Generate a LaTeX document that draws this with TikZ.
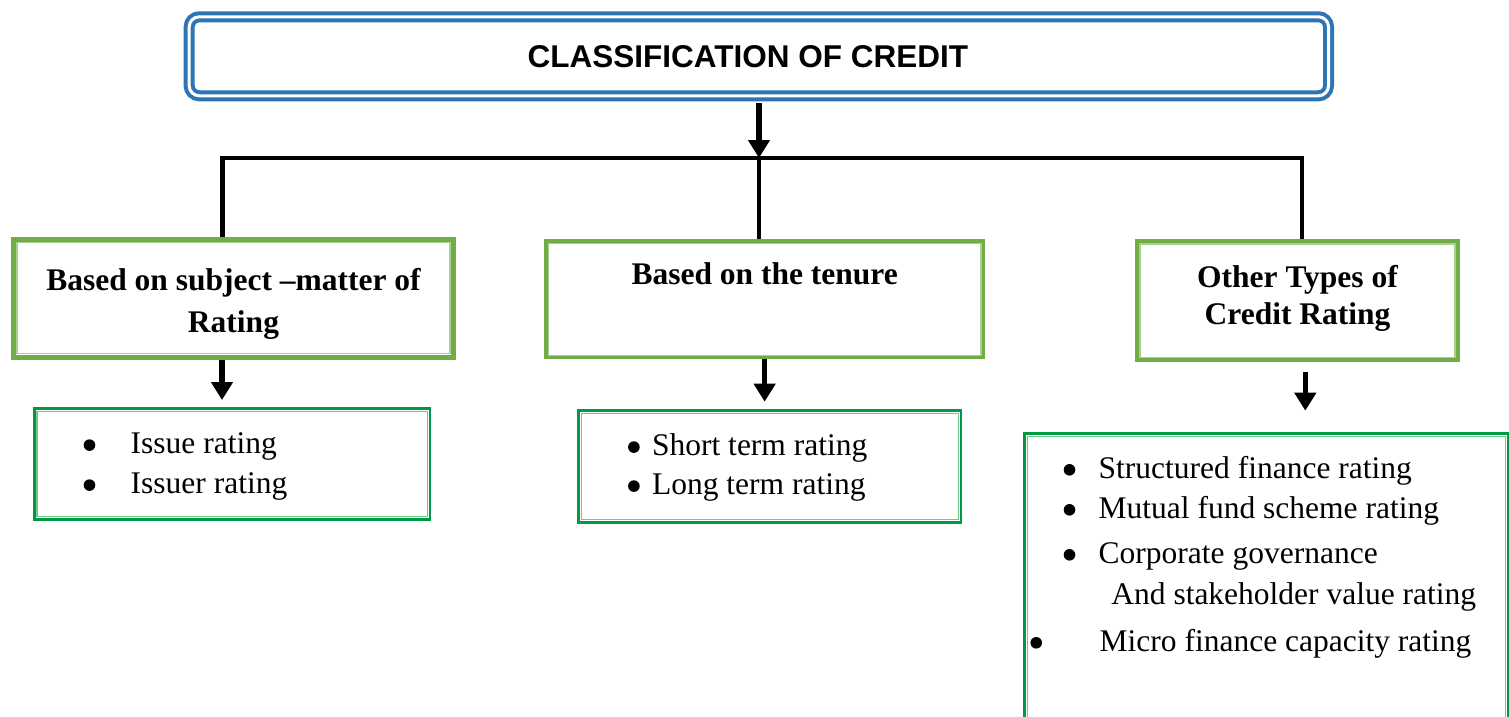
\documentclass[tikz,border=0pt]{standalone}
\usepackage{fontspec}
\setmainfont{Liberation Serif}
\newfontfamily\sansfam{Liberation Sans}
\usetikzlibrary{arrows.meta}
\definecolor{titleblue}{RGB}{46,117,182}
\definecolor{headgreen}{RGB}{112,173,71}
\definecolor{headlight}{RGB}{169,209,142}
\definecolor{listgreen}{RGB}{0,153,68}
\definecolor{listlight}{RGB}{110,200,135}
\newcommand\boxfont{\fontsize{31.5}{40}\selectfont\bfseries}
\newcommand\bulletfont{\fontsize{31.5}{40}\selectfont}
\newcommand\bul[1]{\makebox[#1][l]{\raisebox{2.8pt}{\tikz\fill (0pt,0pt) circle (5.8pt);}}}
\tikzset{
  headbox/.style={draw=headgreen, line width=#1, inner ysep=0pt, inner xsep=10pt, align=flush center, anchor=north west, font=\boxfont},
  listbox/.style={draw=listgreen, line width=2.8pt, inner ysep=0pt, align=flush left, anchor=north west, font=\bulletfont},
  inframe/.style n args={3}{append after command={\pgfextra{\draw[#1, line width=#3] ([shift={(#2,-#2)}]\tikzlastnode.north west) rectangle ([shift={(-#2,#2)}]\tikzlastnode.south east);}}},
  arr/.style={line width=5.5pt, -{Triangle[length=18pt,width=21pt]}},
  conn/.style={line width=4.5pt}
}
\begin{document}
\begin{tikzpicture}[x=1pt, y=-1pt]
        \useasboundingbox (0,0) rectangle (1509,717);
        \node[draw=titleblue, double, double distance=3pt, line width=4pt, rounded corners=10pt, minimum width=1139.3pt, inner sep=0pt, text height=50.2pt, text depth=28.8pt, anchor=north west, font=\sansfam\fontsize{31.5}{40}\selectfont\bfseries] (title) at (187.2,14.8) {CLASSIFICATION OF CREDIT\hspace*{22pt}};
        \node[headbox=5pt, inframe={headlight}{6pt}{1.7pt}, text width=420pt, text height=51.5pt, text depth=66.5pt] (subject) at (11,236.5) {Based on subject –matter of\\[2pt] Rating};
        \node[headbox=3.3pt, inframe={headlight}{4pt}{1.2pt}, text width=417.2pt, text height=43.9pt, text depth=72.7pt] (tenure) at (544.4,239.4) {Based on the tenure};
        \node[headbox=4pt, inframe={headlight}{4.5pt}{1.5pt}, text width=300.4pt, text height=45.7pt, text depth=73pt] (other) at (1135.3,239.3) {Other Types of\\[-3pt] Credit Rating};
        \node[listbox, inframe={listlight}{4pt}{1.2pt}, text width=297pt, inner xsep=49.3pt, text height=45pt, text depth=65.7pt] (subjectlist) at (33,407.3) {\bul{47pt}Issue rating\\ \bul{47pt}Issuer rating};
        \node[listbox, inframe={listlight}{4pt}{1.2pt}, text width=283.3pt, inner xsep=49.5pt, text height=45.1pt, text depth=66.5pt] (tenurelist) at (577.2,409.2) {\bul{24pt}Short term rating\\[-1pt] \bul{24pt}Long term rating};
        \node[listbox, inframe={listlight}{4pt}{1.2pt}, text width=405.4pt, inner xsep=39.1pt, text height=44.8pt, text depth=263pt] (otherlist) at (1023.2,432.2) {\mbox{\bul{35pt}Structured finance rating}\\ \mbox{\bul{35pt}Mutual fund scheme rating}\\[5pt] \mbox{\bul{35pt}Corporate governance}\\[1pt] \mbox{\hspace*{47.7pt}And stakeholder value rating}\\[7pt] \mbox{\hspace*{-33.3pt}\bul{69.3pt}Micro finance capacity rating}};
        \coordinate (split) at (759,158);
        \draw[arr, shorten <=5.5pt] (split |- title.south) -- (split);
        \draw[conn] ([xshift=-11pt]subject.north) |- (split) -| ([xshift=4.5pt]other.north);
        \draw[conn] (split) -- (split |- tenure.north);
        \coordinate (a1) at ([xshift=-11.5pt]subject.south);
        \coordinate (a3) at ([xshift=7.8pt]other.south);
        \draw[arr, shorten >=7.3pt] (a1) -- (a1 |- subjectlist.north);
        \draw[arr, shorten >=7.5pt] (tenure.south) -- (tenure.south |- tenurelist.north);
        \draw[arr, shorten <=10pt, shorten >=21.5pt] (a3) -- (a3 |- otherlist.north);
        \end{tikzpicture}
\end{document}
